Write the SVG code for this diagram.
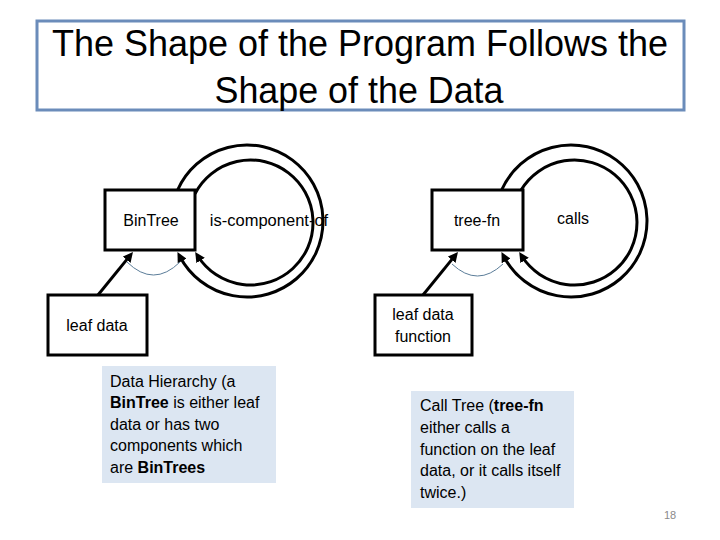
<svg xmlns="http://www.w3.org/2000/svg" width="720" height="540" viewBox="0 0 720 540">
<defs>
<marker id="ah" markerUnits="userSpaceOnUse" markerWidth="12" markerHeight="10" refX="5" refY="5" orient="auto">
<path d="M0,0 L10,5 L0,10 z" fill="#000"/>
</marker>
<style>
text{font-family:"Liberation Sans",Arial,sans-serif;fill:#000}
.node{fill:#fff;stroke:#000;stroke-width:3}
.lbl{font-size:16px;text-anchor:middle}
.conn{fill:none;stroke:#000;stroke-width:3;marker-end:url(#ah)}
.and{fill:none;stroke:#5b7d99;stroke-width:1}
.note{fill:#dce6f2}
.nt{font-size:16px}
.b{font-weight:bold}
</style>
</defs>
<rect width="720" height="540" fill="#fff"/>
<g id="title">
<rect x="37" y="21" width="647" height="89" fill="#fff" stroke="#6b8cba" stroke-width="3"/>
<text x="360" y="56" font-size="36" text-anchor="middle" textLength="616" lengthAdjust="spacingAndGlyphs">The Shape of the Program Follows the</text>
<text x="359" y="103" font-size="36" text-anchor="middle" textLength="289" lengthAdjust="spacingAndGlyphs">Shape of the Data</text>
</g>
<g id="rel-labels">
<text class="lbl" x="269" y="226" style="font-size:16.5px">is-component-of</text>
<text class="lbl" x="573" y="224">calls</text>
</g>
<g id="connectors">
<path class="conn" d="M177.6,190 A76,76 0 1 1 179.8,256.5"/>
<path class="conn" d="M195,193.8 A62.5,62.5 0 1 1 197.9,256.3"/>
<path class="conn" d="M98,295 L129.8,255.9"/>
<path class="and" d="M127,262 Q153.5,288 180,262"/>
<path class="conn" d="M501.6,190 A76,76 0 1 1 503.8,256.5"/>
<path class="conn" d="M521.1,190 A62.5,62.5 0 1 1 521.9,256.3"/>
<path class="conn" d="M423,295 L454.8,255.9"/>
<path class="and" d="M452,264 Q477.5,288 503,264"/>
</g>
<g id="bintree">
<rect class="node" x="105" y="190" width="90" height="60"/>
<text class="lbl" x="151" y="226">BinTree</text>
</g>
<g id="leaf-data">
<rect class="node" x="48" y="295" width="99" height="60"/>
<text class="lbl" x="97" y="331">leaf data</text>
</g>
<g id="tree-fn">
<rect class="node" x="432" y="190" width="91" height="60"/>
<text class="lbl" x="477" y="226">tree-fn</text>
</g>
<g id="leaf-data-function">
<rect class="node" x="375" y="295" width="97" height="60"/>
<text class="lbl" x="423" y="320">leaf data</text>
<text class="lbl" x="423" y="342">function</text>
</g>
<g id="data-hierarchy-note">
<rect class="note" x="102" y="366" width="174" height="117"/>
<text class="nt" x="110" y="387">Data Hierarchy (a</text>
<text class="nt" x="110" y="408"><tspan class="b">BinTree</tspan> is either leaf</text>
<text class="nt" x="110" y="430">data or has two</text>
<text class="nt" x="110" y="451">components which</text>
<text class="nt" x="110" y="473">are <tspan class="b">BinTrees</tspan></text>
</g>
<g id="call-tree-note">
<rect class="note" x="411" y="391" width="163" height="117"/>
<text class="nt" x="420" y="411">Call Tree (<tspan class="b">tree-fn</tspan></text>
<text class="nt" x="420" y="433">either calls a</text>
<text class="nt" x="420" y="455">function on the leaf</text>
<text class="nt" x="420" y="476">data, or it calls itself</text>
<text class="nt" x="420" y="498">twice.)</text>
</g>
<text x="670" y="519" font-size="11" text-anchor="middle" style="fill:#8a8a8a">18</text>
</svg>
